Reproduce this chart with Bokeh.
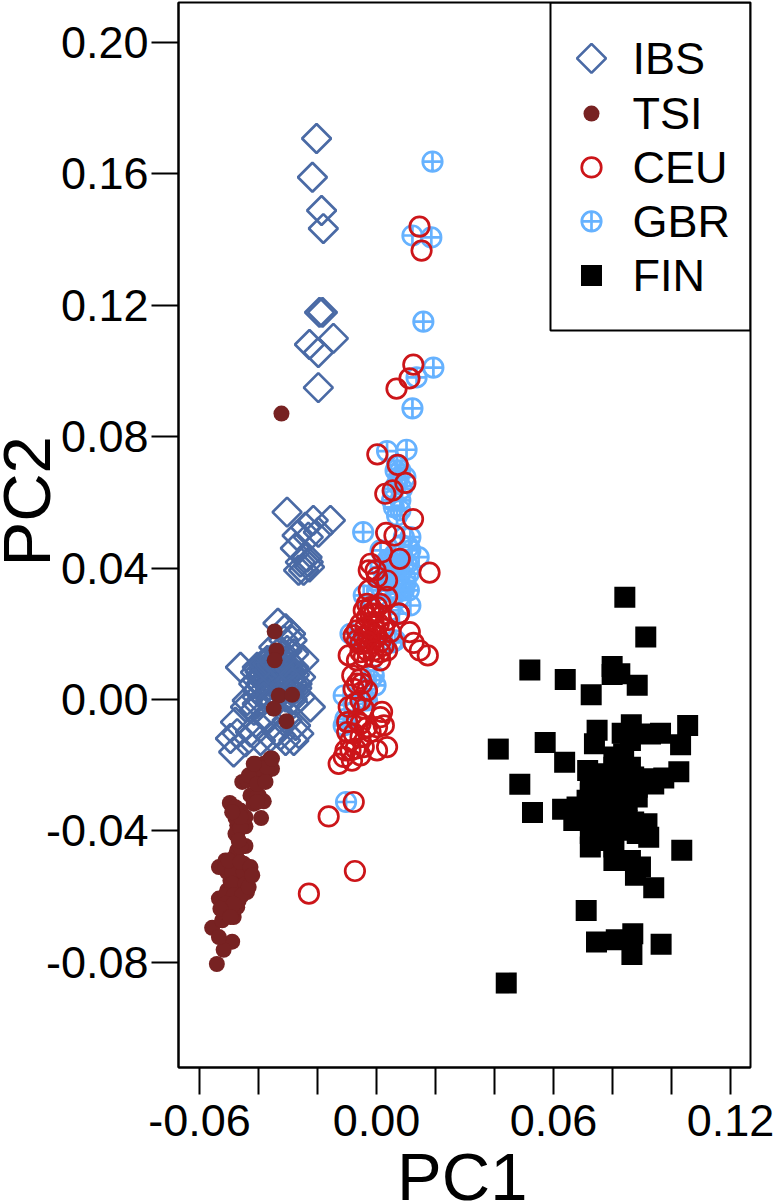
from math import pi
from bokeh.core.properties import value
from bokeh.embed import file_html
from bokeh.models import BoxAnnotation, FixedTicker, Label, NumeralTickFormatter, Range1d
from bokeh.plotting import figure
from bokeh.resources import INLINE

FONT = "Liberation Sans"

ibs_x = [-.0203,-.0217,-.0186,-.0180,-.0193,-.0183,-.0227,-.0146,-.0197,-.0197,
 -.0303,-.0156,-.0214,-.0241,-.0197,-.0269,-.0231,-.0275,-.0235,-.0231,-.0258,-.0264,-.0247,-.0227,
 -.0334,-.0308,-.0286,-.0314,-.0246,-.0461,-.0257,-.0404,-.0359,-.0314,-.0404,-.0359,-.0314,-.0291,-.0382,-.0336,-.0336,-.0303,-.0370,-.0325,-.0280,-.0303,-.0359,-.0404,
 -.0224,-.0438,-.0444,-.0404,-.0257,-.0280,-.0415,-.0478,-.0484,-.0472,-.0495,-.0444,-.0427,-.0393,-.0370,-.0393,-.0359,-.0325,-.0308,-.0336,-.0280,-.0263,-.0274,-.0303,
 -.0395,-.0388,-.0381,-.0374,-.0367,-.0352,-.0345,-.0338,-.0330,-.0322,-.0308,-.0300,-.0392,-.0378,-.0363,-.0349,-.0342,-.0326,-.0318,-.0306,-.0296,-.0384,-.0371,-.0355,-.0341,-.0329,-.0311,-.0299,
 -.0410,-.0416,-.0280,-.0269,-.0291,-.0303,-.0348,-.0291,-.0404,-.0336,-.0359,-.0308,-.0382,
 -.0290,-.0285,-.0278,-.0270,-.0295,-.0285]
ibs_y = [.1707,.1589,.1488,.1433,.1178,.1178,.1080,.1099,.1056,.0949,
 .0570,.0545,.0545,.0524,.0509,.0499,.0494,.0460,.0433,.0418,.0418,.0393,.0393,.0403,
 .0232,.0215,.0180,.0180,.0119,.0098,.0068,.0098,.0098,.0098,.0058,.0058,.0058,.0078,.0078,.0078,.0119,.0119,.0119,.0149,.0139,.0038,.0028,.0028,
 -.0023,-.0003,-.0023,.0007,.0007,-.0012,-.0033,-.0069,-.0160,-.0104,-.0119,-.0129,-.0099,-.0084,-.0054,-.0125,-.0114,-.0109,-.0125,-.0099,-.0125,-.0104,-.0079,-.0064,
 .0085,.0071,.0092,.0064,.0082,.0088,.0067,.0094,.0070,.0086,.0072,.0090,.0048,.0052,.0042,.0047,.0036,.0044,.0052,.0045,.0056,.0108,.0112,.0105,.0110,.0104,.0109,.0102,
 .0083,.0048,.0098,.0048,.0028,.0149,.0159,.0200,-.0013,.0007,-.0003,.0007,.0007,
 .0060,.0050,.0075,.0035,.0015,.0000]

tsi_x = [-.0541,-.0489,-.0518,-.0557,-.0534,-.0523,-.0484,-.0534,-.0518,-.0484,-.0472,-.0506,-.0467,-.0439,-.0506,-.0472,-.0433,-.0495,-.0461,-.0506,-.0467,-.0534,-.0512,-.0484,-.0450,-.0478,-.0444,-.0472,-.0472,-.0444,-.0472,-.0478,-.0444,-.0497,-.0461,-.0391,-.0427,-.0416,-.0382,-.0399,-.0455,-.0416,-.0411,-.0378,-.0354,-.0360,-.0382,-.0393,
 -.0345,-.0339,-.0345,-.0331,-.0286,-.0348,-.0305,-.0322,
 -.0512,-.0489,-.0450,-.0489,-.0444,-.0512,-.0484,-.0456,-.0512,-.0484,-.0529,-.0495,-.0501,-.0461,-.0433,-.0427,-.0421,-.0461,-.0478,-.0461,-.0467,-.0478,-.0461,-.0489,-.0405,-.0405,-.0438,-.0405,-.0371,-.0433,-.0416,-.0405,-.0376,-.0354]
tsi_y = [-.0805,-.0737,-.0762,-.0695,-.0723,-.0672,-.0662,-.0606,-.0647,-.0642,-.0632,-.0622,-.0612,-.0586,-.0581,-.0581,-.0535,-.0551,-.0551,-.0525,-.0525,-.0510,-.0490,-.0505,-.0500,-.0475,-.0446,-.0459,-.0409,-.0386,-.0383,-.0360,-.0358,-.0315,-.0338,-.0361,-.0292,-.0317,-.0310,-.0292,-.0251,-.0241,-.0196,-.0226,-.0211,-.0180,-.0196,-.0241,
 .0207,.0149,.0119,.0012,.0014,-.0028,-.0066,.0870,
 -.0510,-.0525,-.0525,-.0561,-.0561,-.0596,-.0596,-.0596,-.0622,-.0622,-.0637,-.0662,-.0490,-.0495,-.0571,-.0510,-.0535,-.0449,-.0409,-.0390,-.0429,-.0328,-.0358,-.0343,-.0297,-.0312,-.0246,-.0226,-.0206,-.0231,-.0196,-.0257,-.0251,-.0180]

ceu_x = [.0146,.0153,.0125,.0112,.0068,.0003,.0072,.0098,.0055,.0030,.0124,.0033,.0061,.0019,.0079,.0180,-.0020,-.0026,-.0003,.0002,.0036,-.0026,.0036,.0076,
 -.0020,.0002,-.0043,-.0009,-.0032,.0013,-.0054,-.0009,.0036,.0076,-.0066,-.0020,.0025,-.0043,.0002,-.0077,.0047,-.0020,.0025,-.0054,-.0032,-.0094,.0036,-.0066,-.0043,-.0009,.0013,.0113,.0126,.0147,.0174,
 -.0082,-.0066,-.0049,-.0032,-.0094,-.0054,-.0043,.0019,-.0099,-.0099,-.0066,-.0032,.0013,.0025,-.0020,.0002,.0036,.0002,-.0054,-.0088,-.0105,-.0128,-.0083,-.0111,-.0043,
 -.0077,-.0162,-.0073,-.0229,
 -.0032,.0013,-.0020,.0008,-.0037,-.0003,-.0026,.0013,-.0032,-.0009,-.0054,-.0066,.0013,-.0054,-.0077,-.0071,-.0054,-.0077,-.0071,-.0088,-.0054]
ceu_y = [.1439,.1366,.1019,.0977,.0946,.0746,.0714,.0659,.0636,.0626,.0549,.0507,.0499,.0448,.0428,.0386,.0413,.0393,.0393,.0372,.0362,.0332,.0312,.0261,
 .0281,.0281,.0271,.0261,.0251,.0251,.0230,.0230,.0241,.0261,.0210,.0210,.0215,.0190,.0190,.0195,.0205,.0169,.0164,.0169,.0149,.0134,.0149,.0119,.0129,.0129,.0119,.0205,.0172,.0149,.0134,
 .0073,.0048,.0048,.0027,-.0023,-.0003,-.0028,-.0038,-.0069,-.0099,-.0064,-.0084,-.0054,-.0079,-.0099,-.0084,-.0145,-.0155,-.0115,-.0125,-.0155,-.0196,-.0186,-.0175,-.0145,
 -.0312,-.0356,-.0522,-.0591,
 .0291,.0291,.0261,.0230,.0220,.0210,.0195,.0175,.0175,.0149,.0144,.0180,.0144,.0063,.0032,-.0012,-.0074,-.0104,-.0150,-.0155,-.0170]

gbr_x = [.0190,.0122,.0186,.0159,.0193,.0136,.0122,.0036,.0102,.0070,.0098,.0076,.0081,.0053,.0070,-.0045,.0115,.0143,.0115,.0014,.0081,.0036,.0110,.0098,.0070,-.0043,.0002,.0115,.0076,.0059,
 .0053,-.0020,-.0111,-.0043,-.0099,-.0111,-.0054,-.0103,.0085,.0092,.0088,.0078,.0060,.0045,.0030,
 .0093,.0110,.0087,.0104,.0076,.0098,.0070,.0093,.0065,.0110,.0036,.0014,.0047,.0025,.0042,.0014,.0065,.0081,.0070,.0087,.0059,.0059,.0081,
 .0047,.0064,-.0009,-.0003,-.0088,-.0032,-.0077,-.0105]
gbr_y = [.1637,.1412,.1406,.1150,.1010,.0980,.0886,.0756,.0760,.0714,.0677,.0677,.0606,.0606,.0560,.0509,.0494,.0433,.0454,.0454,.0423,.0393,.0383,.0352,.0393,.0317,.0332,.0286,.0261,.0362,
 .0174,.0059,.0012,-.0003,-.0069,-.0079,.0190,-.0312,.0470,.0410,.0340,.0310,.0440,.0420,.0380,
 .0494,.0464,.0443,.0413,.0403,.0372,.0362,.0332,.0322,.0332,.0423,.0403,.0393,.0362,.0332,.0342,.0697,.0697,.0656,.0641,.0641,.0585,.0575,
 .0271,.0180,.0073,.0043,.0200,-.0003,-.0013,-.0059]

fin_x = [.0842,.0913,.0520,.0640,.0728,.0799,.0799,.0825,.0884,.0748,.0864,.0833,.0963,.1055,.1031,.0739,.0572,.0413,.0638,.0486,.0529,.0716,.1025,.0974,
 .0838,.0805,.0861,.0940,.0884,.0771,.0725,.0725,.0793,.0827,.0771,.0884,.0631,.0680,.0669,.0725,.0771,.0827,.0725,.0725,.0793,.0850,.0917,.0923,.0884,.0805,.0805,.0861,.0895,.0878,.0940,.1035,.0711,.0746,.0813,.0869,.0866,.0965,.0440,.0861,.0929,
 .0805,.0838,.0771,.0737,.0827,.0872,.0906,.0782,.0714,.0816,.0850,.0703,.0805,.0759,.0827,.0771,.0799,.0872]
fin_y = [.0311,.0190,.0090,.0061,.0014,.0100,.0076,.0078,.0043,-.0094,-.0077,-.0103,-.0103,-.0079,-.0138,-.0135,-.0131,-.0151,-.0191,-.0258,-.0344,-.0216,-.0220,-.0239,
 -.0165,-.0206,-.0206,-.0257,-.0267,-.0226,-.0246,-.0287,-.0246,-.0287,-.0297,-.0297,-.0334,-.0327,-.0368,-.0337,-.0348,-.0337,-.0408,-.0449,-.0388,-.0368,-.0378,-.0419,-.0408,-.0449,-.0490,-.0490,-.0510,-.0535,-.0573,-.0459,-.0642,-.0738,-.0731,-.0713,-.0776,-.0745,-.0863,-.0125,-.0105,
 -.0175,-.0216,-.0256,-.0277,-.0256,-.0236,-.0241,-.0317,-.0307,-.0317,-.0307,-.0348,-.0358,-.0388,-.0398,-.0429,-.0424,-.0373]

legend_names = ["IBS", "TSI", "CEU", "GBR", "FIN"]
legend_y = [.1951, .1783, .1619, .1455, .1290]
legend_marker_x = .0729
legend_text_x = .0868

x_major = [-.06, 0, .06, .12]
x_minor = [-.04, -.02, .02, .04, .08, .10]
y_major = [-.08, -.04, 0, .04, .08, .12, .16, .20]

IBS_C, TSI_C, CEU_C, GBR_C = "#4A6AA5", "#772222", "#CC1519", "#66B2FF"

# The side panels are oversized and pulled back by negative margins, so the
# frame stays put while the two big axis titles sit in the panels unclipped.
EXTRA = 100
p = figure(width=774 + EXTRA, height=1204 + EXTRA, output_backend="svg", toolbar_location=None,
           x_range=Range1d(-.0671, .1268), y_range=Range1d(-.1120, .2121),
           min_border_left=178 + EXTRA, min_border_right=24, min_border_top=2, min_border_bottom=137 + EXTRA,
           margin=(0, 0, -EXTRA, -EXTRA))
p.grid.visible = False
p.outline_line_color = "black"
p.outline_line_width = 2

p.xaxis.ticker = FixedTicker(ticks=x_major, minor_ticks=x_minor)
p.yaxis.ticker = FixedTicker(ticks=y_major)
p.xaxis.formatter = NumeralTickFormatter(format="0.00")
p.yaxis.formatter = NumeralTickFormatter(format="0.00")
for ax in (p.xaxis, p.yaxis):
    ax.major_tick_out = 27
    ax.major_tick_in = 0
    ax.minor_tick_out = 27
    ax.minor_tick_in = 0
    ax.major_tick_line_width = 2
    ax.minor_tick_line_width = 2
    ax.major_tick_line_color = "black"
    ax.minor_tick_line_color = "black"
    ax.axis_line_width = 2
    ax.axis_line_color = "black"
    ax.major_label_text_font = FONT
    ax.major_label_text_font_size = "45px"
    ax.major_label_text_color = "black"
p.yaxis.major_label_standoff = 3
p.xaxis.major_label_standoff = 10

def ibs(x, y):
    p.scatter(x, y, marker="square", angle=pi/4, size=20.5, line_width=2.7, line_color=IBS_C, fill_color=None)
def tsi(x, y):
    p.scatter(x, y, marker="circle", size=16, fill_color=TSI_C, line_color=None)
def gbr(x, y):
    p.scatter(x, y, marker="circle_cross", size=19.5, line_width=2.7, line_color=GBR_C, fill_color=None)
def ceu(x, y):
    p.scatter(x, y, marker="circle", size=19.5, line_width=2.7, line_color=CEU_C, fill_color=None)
def fin(x, y):
    p.scatter(x, y, marker="square", size=21, fill_color="black", line_color=None)

ibs(ibs_x, ibs_y); tsi(tsi_x, tsi_y); gbr(gbr_x, gbr_y); ceu(ceu_x, ceu_y); fin(fin_x, fin_y)

p.add_layout(BoxAnnotation(left=.0590, right=.1268, top=.2121, bottom=.1123,
                           fill_alpha=0, line_color="black", line_width=2, line_alpha=1))
lx = [legend_marker_x]
ibs(lx, [legend_y[0]]); tsi(lx, [legend_y[1]]); ceu(lx, [legend_y[2]]); gbr(lx, [legend_y[3]]); fin(lx, [legend_y[4]])
p.text([legend_text_x]*5, legend_y, text=legend_names, text_font=value(FONT), text_font_size="45px",
       text_color="black", text_baseline="middle", text_align="left")

p.add_layout(Label(x=-.1186, y=.0603, text="PC2", angle=pi/2, text_font=FONT, text_font_size="67px",
                   text_align="center", text_baseline="alphabetic", text_color="black"), "left")
p.add_layout(Label(x=.0291, y=-.1452, text="PC1", text_font=FONT, text_font_size="67px",
                   text_align="center", text_baseline="alphabetic", text_color="black"), "below")

open("out.html", "w").write(file_html(p, INLINE))
